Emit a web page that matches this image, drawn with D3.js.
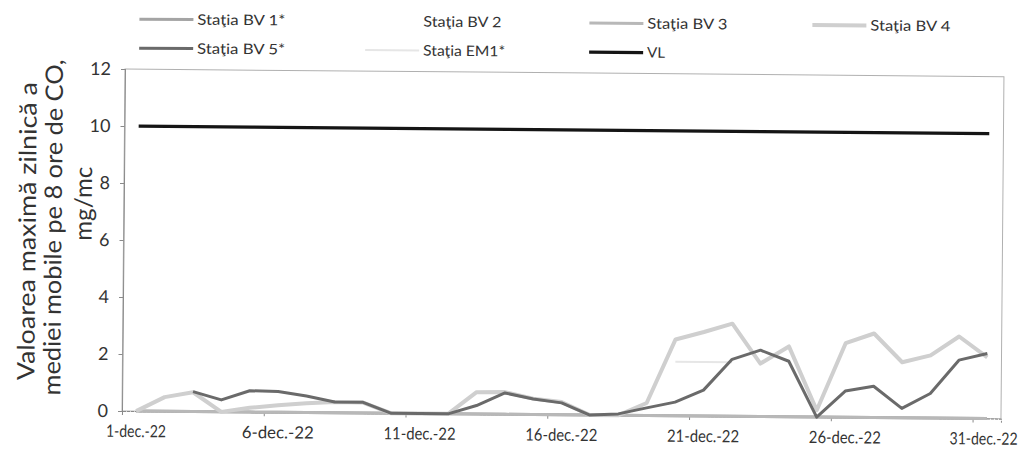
<!DOCTYPE html>
<html><head><meta charset="utf-8">
<script src="https://cdn.jsdelivr.net/npm/d3@7"></script>
<style>body{margin:0;background:#fff}svg{display:block}</style>
</head><body>
<svg id="c" width="1031" height="457"></svg>
<script>
// ---- data ----
const days = [1,2,3,4,5,6,7,8,9,10,11,12,13,14,15,16,17,18,19,20,21,22,23,24,25,26,27,28,29,30,31];
const tickDays = [1,6,11,16,21,26,31];
const tickLabels = ["1-dec.-22","6-dec.-22","11-dec.-22","16-dec.-22","21-dec.-22","26-dec.-22","31-dec.-22"];
const yTicks = [0,2,4,6,8,10,12];
const seriesNames = ["Staţia BV 1*","Staţia BV 2","Staţia BV 3","Staţia BV 4","Staţia BV 5*","Staţia EM1*","VL"];
const bv1 = [0,0,0,0,0,0,0,0,0,0,0,0,0,0,0,0,0,0,0,0,0,0,0,0,0,0,0,0,0,0,0];
const bv2 = [null,null,null,null,null,null,null,null,null,null,null,null,null,null,null,null,null,null,null,null,null,null,null,null,null,null,null,null,null,null,null];
const bv3 = [0,0,0,0,0,0,0,0,0,0,0,0,0,0,0,0,0,0,0,0,0,0,0,0,0,0,0,0,0,0,0];
const bv4 = [0,0.5,0.68,0,0.15,0.25,0.33,0.38,0.37,0,0,0,0.77,0.78,0.56,0.45,0,0,0.44,2.68,2.95,3.25,1.86,2.47,0.24,2.6,2.95,1.95,2.2,2.87,2.15];
const bv5 = [null,null,0.7,0.42,0.75,0.73,0.58,0.38,0.38,0,0,0,0.3,0.75,0.55,0.42,0,0.05,0.27,0.48,0.91,2.0,2.33,1.95,0,0.92,1.1,0.33,0.86,2.04,2.28];
const em1 = [null,null,null,null,null,null,null,null,null,null,null,null,null,null,null,null,null,null,null,1.9,1.9,1.9,null,null,null,null,null,null,null,null,null];
const vl = [10,10,10,10,10,10,10,10,10,10,10,10,10,10,10,10,10,10,10,10,10,10,10,10,10,10,10,10,10,10,10];
const seriesValues = [bv1,bv2,bv3,bv4,bv5,em1,vl];

// ---- styles ----
const styles = [
  {color:"#a4a4a4", width:3},
  {color:"#ffffff", width:3},
  {color:"#b8b8b8", width:3},
  {color:"#cfcfcf", width:4},
  {color:"#6a6a6a", width:3},
  {color:"#e6e6e6", width:2},
  {color:"#151515", width:3.2}
];
const drawOrder = [0,2,5,3,4,1,6];

const svg = d3.select("#c");
const g = svg.append("g").attr("transform","rotate(0.5,122,411)");
const font = "Lato, 'Open Sans', sans-serif";

const x = d3.scaleLinear().domain([0.5,31.5]).range([122,1001]);
const y = d3.scaleLinear().domain([0,12]).range([411,69]);

// plot border
g.append("rect").attr("x",x(0.5)).attr("y",y(12)).attr("width",x(31.5)-x(0.5)).attr("height",y(0)-y(12))
  .attr("fill","none").attr("stroke","#b0b0b0").attr("stroke-width",1);

// y axis
const yAxis = d3.axisLeft(y).tickValues(yTicks).tickSize(4).tickPadding(10);
const ya = g.append("g").attr("transform",`translate(${x(0.5)},0)`).call(yAxis);
ya.select(".domain").attr("stroke","#8a8a8a");
ya.selectAll(".tick line").attr("stroke","#8a8a8a");
ya.selectAll("text").attr("font-family",font).attr("font-size",18).attr("fill","#333");

// x axis
const xAxis = d3.axisBottom(x).tickValues(tickDays.map(d=>d-0.5)).tickSize(4).tickFormat("");
const xa = g.append("g").attr("transform",`translate(0,${y(0)})`).call(xAxis);
xa.select(".domain").attr("stroke","#8a8a8a").attr("stroke-dasharray","3,1");
xa.selectAll(".tick line").attr("stroke","#8a8a8a");
g.selectAll(".xlab").data(tickDays).enter().append("text")
  .attr("x",(d,i)=>x(d)-(i===6?3:0)).attr("y",y(0)+26).attr("text-anchor","middle")
  .attr("font-family",font).attr("font-size",17).attr("fill","#333")
  .attr("textLength",(d,i)=>i===0?60:(i===6?68:72)).attr("lengthAdjust","spacingAndGlyphs")
  .text((d,i)=>tickLabels[i]);

// lines
const line = d3.line().defined(d=>d.v!==null).x(d=>x(d.d)).y(d=>y(d.v));
drawOrder.forEach(k=>{
  if(k===1) return;
  const data = days.map((d,i)=>({d:d,v:seriesValues[k][i]}));
  g.append("path").datum(data).attr("d",line).attr("fill","none")
    .attr("stroke",styles[k].color).attr("stroke-width",styles[k].width)
    .attr("stroke-linejoin","round");
});

// legend
const legendPos = [
  {x:136,y:19},{x:362,y:19},{x:586,y:19},{x:809,y:19},
  {x:136,y:48},{x:362,y:48},{x:586,y:48}
];
const legendTL = [88,78,80,80,88,82,18];
seriesNames.forEach((name,i)=>{
  const p = legendPos[i];
  g.append("line").attr("x1",p.x).attr("x2",p.x+54).attr("y1",p.y).attr("y2",p.y)
    .attr("stroke",styles[i].color).attr("stroke-width",styles[i].width);
  g.append("text").attr("x",p.x+58).attr("y",p.y+5).attr("font-family",font).attr("font-size",14.5)
    .attr("fill","#333").attr("textLength",legendTL[i]).attr("lengthAdjust","spacingAndGlyphs").text(name);
});

// y title
const titleLines = [
  {t:"Valoarea maximă zilnică a", x:34, y:232, len:298},
  {t:"mediei mobile pe 8 ore de CO,", x:60, y:228, len:336},
  {t:"mg/mc", x:90, y:204, len:74}
];
titleLines.forEach(l=>{
  g.append("text").attr("transform",`translate(${l.x},${l.y}) rotate(-90)`)
    .attr("text-anchor","middle").attr("font-family",font).attr("font-size",24).attr("fill","#333")
    .attr("textLength",l.len).attr("lengthAdjust","spacingAndGlyphs").text(l.t);
});
</script>
</body></html>
